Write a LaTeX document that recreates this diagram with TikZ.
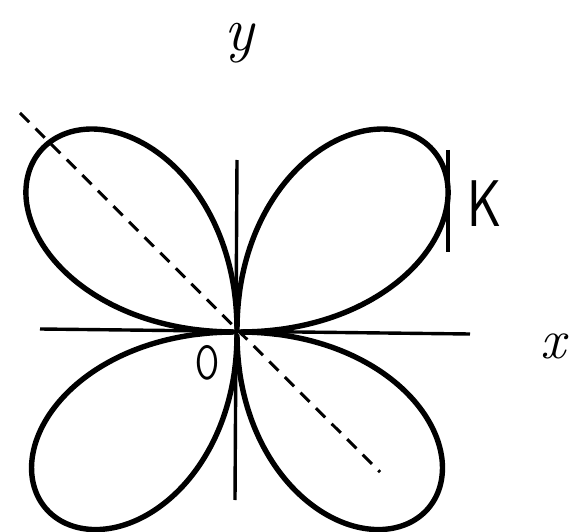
\documentclass[tikz,border=0pt]{standalone}
\usepackage{graphicx}
\begin{document}
\begin{tikzpicture}[x=1pt,y=-1pt,
  petal/.style={line width=5.4pt, line join=round, line cap=round},
  axisline/.style={line width=3.4pt},
  guide/.style={line width=3pt, dash pattern=on 13pt off 9pt},
  lbl/.style={inner sep=0pt, outer sep=0pt}]
\useasboundingbox (0,0) rectangle (571,532);
% reference points
\coordinate (O) at (237,332);
\coordinate (xl) at (40,329);
\coordinate (xr) at (470,334);
\coordinate (yt) at (237,160);
\coordinate (yb) at (235,500);
\coordinate (dA) at (20,113);
\coordinate (dB) at (380,472);
\coordinate (kt) at (448,150);
\coordinate (kb) at (448,252);
% axes
\draw[axisline] (xl) -- (xr);
\draw[axisline] (yt) -- (yb);
% dashed diagonal
\draw[guide] (dA) -- (dB);
% upper petals
\draw[petal] plot[domain=0.3:179.7, samples=360, smooth]
  ({237+1.04*262*pow(abs(sin(2*\x))+0.00001,0.9)*cos(\x)},
   {332-262*pow(abs(sin(2*\x))+0.00001,0.9)*sin(\x)});
% lower petals
\draw[petal] plot[domain=180.3:359.7, samples=360, smooth]
  ({237+1.04*255*pow(abs(sin(2*\x))+0.00001,0.9)*cos(\x)},
   {332-255*pow(abs(sin(2*\x))+0.00001,0.9)*sin(\x)});
% K marker
\draw[axisline, line width=4pt] (kt) -- (kb);
% labels
\node[lbl, font=\itshape\fontsize{62}{62}\selectfont] (ylab) at (239,43) {y};
\node[lbl, font=\itshape\fontsize{56}{56}\selectfont] (xlab) at (553,346) {x};
\node[lbl, font=\sffamily\fontsize{66}{66}\selectfont] (klab) at (485,204) {\scalebox{0.8}[1]{K}};
\node[lbl, font=\sffamily\fontsize{48}{48}\selectfont] (olab) at (207,363) {\scalebox{0.72}[1]{O}};
\end{tikzpicture}
\end{document}
